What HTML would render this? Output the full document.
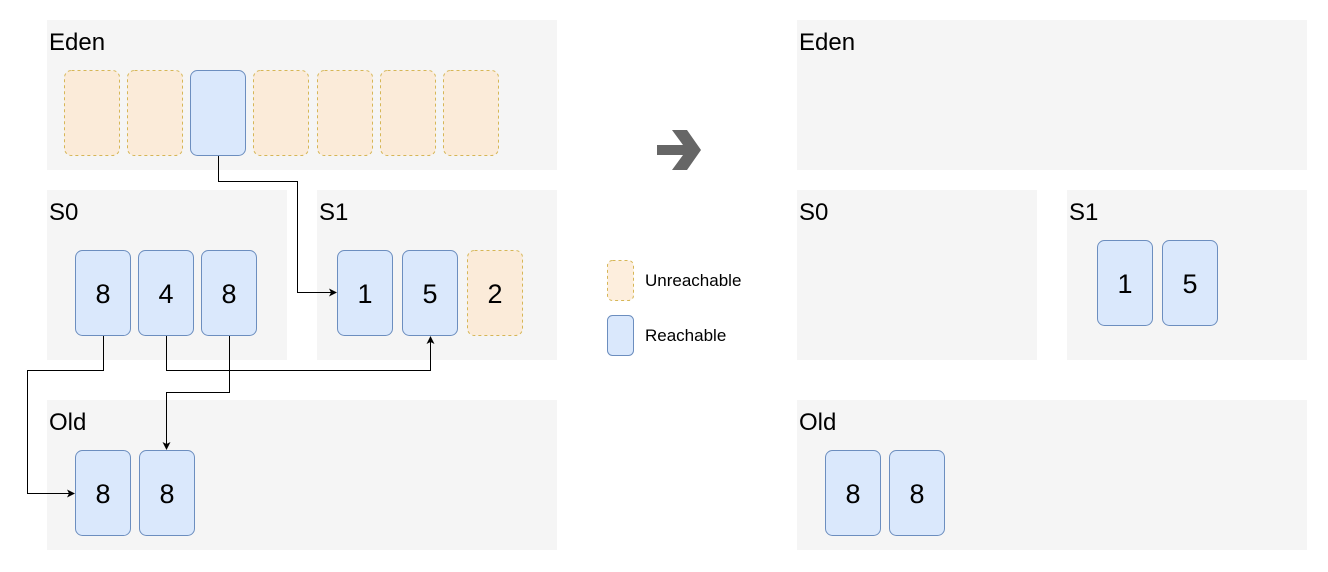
<!DOCTYPE html>
<html><head><meta charset="utf-8"><style>
html,body{margin:0;padding:0;background:#fff;}
svg{display:block;font-family:"Liberation Sans",Arial,sans-serif;}
</style></head><body>
<svg width="1328" height="572" viewBox="0 0 1328 572" xmlns="http://www.w3.org/2000/svg">
<defs>
<marker id="ah" markerWidth="8" markerHeight="8" refX="7" refY="4" orient="auto" markerUnits="userSpaceOnUse">
<path d="M0,0 L8,4 L0,8 L2,4 Z" fill="#000"/>
</marker>
</defs>
<g fill="#f5f5f5">
<rect x="47" y="20" width="510" height="150"/>
<rect x="47" y="190" width="240" height="170"/>
<rect x="317" y="190" width="240" height="170"/>
<rect x="47" y="400" width="510" height="150"/>
<rect x="797" y="20" width="510" height="150"/>
<rect x="797" y="190" width="240" height="170"/>
<rect x="1067" y="190" width="240" height="170"/>
<rect x="797" y="400" width="510" height="150"/>
</g>
<g font-size="24" fill="#000">
<text x="49" y="50">Eden</text>
<text x="49" y="220">S0</text>
<text x="319" y="220">S1</text>
<text x="49" y="430">Old</text>
<text x="799" y="50">Eden</text>
<text x="799" y="220">S0</text>
<text x="1069" y="220">S1</text>
<text x="799" y="430">Old</text>
</g>
<g stroke="#d6b656" stroke-dasharray="3,3" fill="#fbebd9" stroke-width="1">
<rect x="64.5" y="70.5" width="55" height="85" rx="7"/>
<rect x="127.5" y="70.5" width="55" height="85" rx="7"/>
<rect x="253.5" y="70.5" width="55" height="85" rx="7"/>
<rect x="317.5" y="70.5" width="55" height="85" rx="7"/>
<rect x="380.5" y="70.5" width="55" height="85" rx="7"/>
<rect x="443.5" y="70.5" width="55" height="85" rx="7"/>
<rect x="467.5" y="250.5" width="55" height="85" rx="7"/>
<rect x="607.5" y="260.5" width="26" height="40" rx="5" fill="#fdeedd"/>
</g>
<g stroke="#6c8ebf" fill="#dae8fc" stroke-width="1">
<rect x="190.5" y="70.5" width="55" height="85" rx="7"/>
<rect x="75.5" y="250.5" width="55" height="85" rx="7"/>
<rect x="138.5" y="250.5" width="55" height="85" rx="7"/>
<rect x="201.5" y="250.5" width="55" height="85" rx="7"/>
<rect x="337.5" y="250.5" width="55" height="85" rx="7"/>
<rect x="402.5" y="250.5" width="55" height="85" rx="7"/>
<rect x="75.5" y="450.5" width="55" height="85" rx="7"/>
<rect x="139.5" y="450.5" width="55" height="85" rx="7"/>
<rect x="1097.5" y="240.5" width="55" height="85" rx="7"/>
<rect x="1162.5" y="240.5" width="55" height="85" rx="7"/>
<rect x="825.5" y="450.5" width="55" height="85" rx="7"/>
<rect x="889.5" y="450.5" width="55" height="85" rx="7"/>
<rect x="607.5" y="315.5" width="26" height="40" rx="5"/>
</g>
<g font-size="27" text-anchor="middle" fill="#000">
<text x="103" y="303">8</text>
<text x="166" y="303">4</text>
<text x="229" y="303">8</text>
<text x="365" y="303">1</text>
<text x="430" y="303">5</text>
<text x="495" y="303">2</text>
<text x="103" y="503">8</text>
<text x="167" y="503">8</text>
<text x="1125" y="293">1</text>
<text x="1190" y="293">5</text>
<text x="853" y="503">8</text>
<text x="917" y="503">8</text>
</g>
<g stroke="#000" stroke-width="1" fill="none" marker-end="url(#ah)">
<polyline points="218.5,156 218.5,181.5 297.5,181.5 297.5,292.5 336,292.5"/>
<polyline points="103.5,336 103.5,370.5 27.5,370.5 27.5,493.5 74,493.5"/>
<polyline points="166.5,336 166.5,370.5 430.5,370.5 430.5,337"/>
<polyline points="229.5,336 229.5,392.5 166.5,392.5 166.5,449"/>
</g>
<path d="M657,145 L683,145 L672,130 L687,130 L701,150 L687,170 L672,170 L683,155 L657,155 Z" fill="#666"/>
<g font-size="17" fill="#000">
<text x="645" y="286">Unreachable</text>
<text x="645" y="341">Reachable</text>
</g>
</svg>
</body></html>
